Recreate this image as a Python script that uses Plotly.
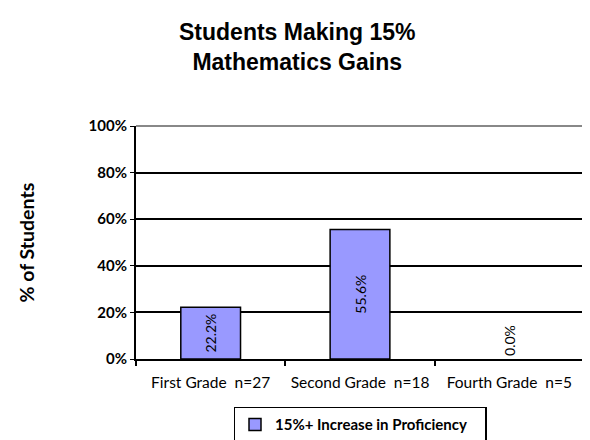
import plotly.graph_objects as go

categories = ["First Grade\u00a0\u00a0n=27", "Second Grade\u00a0\u00a0n=18", "Fourth Grade\u00a0\u00a0n=5"]
values = [22.2, 55.6, 0.0]
labels = ["22.2%", "55.6%", "0.0%"]
series_name = "15%+ Increase in Proficiency"
title_lines = ["Students Making 15%", "Mathematics Gains"]
y_title = "% of Students"
y_ticks = [0, 20, 40, 60, 80, 100]
y_ticktext = ["0%", "20%", "40%", "60%", "80%", "100%"]

fig = go.Figure()
fig.add_trace(go.Bar(
    x=categories, y=values, name=series_name,
    marker=dict(color="#9999FF", line=dict(color="black", width=[1.5, 1.5, 0])),
    text=labels, textangle=-90,
    textposition=["inside", "inside", "outside"],
    insidetextanchor="middle",
    constraintext="none", cliponaxis=False,
    textfont=dict(family="Lato", size=14, color="black"),
    showlegend=True,
))

# page body adds an 8px offset; figure spans (8,8)-(590,440)
fig.update_layout(
    width=582, height=432,
    margin=dict(l=128, r=6, t=118, b=81, autoexpand=False),
    paper_bgcolor="white", plot_bgcolor="white",
    bargap=0.6,
    xaxis=dict(showline=True, linecolor="black", linewidth=2, automargin=False,
               ticks="outside", ticklen=5, tickcolor="black", tickwidth=1.5,
               tickson="boundaries", showgrid=False, ticklabelstandoff=8,
               tickfont=dict(family="Lato", size=15.5, color="black")),
    yaxis=dict(range=[0, 100], tickvals=y_ticks, ticktext=y_ticktext, automargin=False,
               showline=True, linecolor="black", linewidth=2,
               ticks="outside", ticklen=4, tickcolor="black",
               showgrid=True, gridcolor="black", gridwidth=1.5,
               zeroline=False,
               tickfont=dict(family="Lato", size=15, color="black", weight="bold")),
    legend=dict(orientation="h", x=0.5, xanchor="center", y=-0.205, yanchor="top",
                bordercolor="black", borderwidth=1.5, bgcolor="white",
                entrywidth=205, entrywidthmode="pixels", itemwidth=30,
                font=dict(family="Lato", size=15, color="black", weight="bold")),
)

title_font = dict(family="Liberation Sans", size=23, color="black", weight="bold")
fig.add_annotation(text="<br>".join(title_lines), xref="paper", yref="paper",
                   x=0.359, y=1.337, xanchor="center", yanchor="middle",
                   align="center", showarrow=False, font=title_font)
fig.add_annotation(text=y_title, xref="paper", yref="paper", x=-0.2455, y=0.5,
                   xanchor="center", yanchor="middle", textangle=-90, showarrow=False,
                   font=dict(family="Lato", size=19.5, color="black", weight="bold"))

fig.add_shape(type="line", xref="paper", yref="paper", x0=0, x1=1, y0=1, y1=1,
              line=dict(color="#888888", width=2), layer="above")
fig.add_shape(type="line", xref="paper", yref="paper", x0=1, x1=1, y0=0, y1=1,
              line=dict(color="#888888", width=2), layer="above")

fig.write_html("out.html")
